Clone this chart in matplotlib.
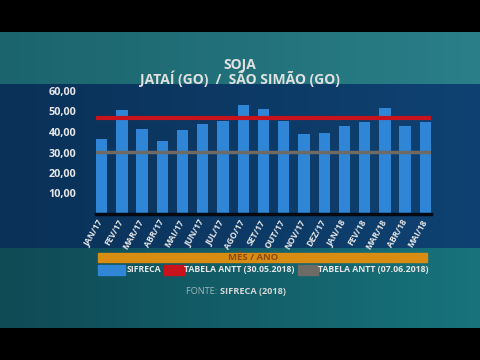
import numpy as np
import matplotlib
matplotlib.use("Agg")
import matplotlib.pyplot as plt
from matplotlib.patches import Rectangle
import matplotlib.transforms as mtransforms

months = ['JAN/17', 'FEV/17', 'MAR/17', 'ABR/17', 'MAI/17', 'JUN/17', 'JUL/17',
          'AGO/17', 'SET/17', 'OUT/17', 'NOV/17', 'DEZ/17', 'JAN/18', 'FEV/18',
          'MAR/18', 'ABR/18', 'MAI/18']
sifreca = [36.4, 50.5, 41.3, 35.4, 40.8, 43.7, 45.6, 53.4, 51.0, 45.6, 38.8,
           39.3, 42.7, 44.7, 51.5, 42.7, 45.1]
antt_3005 = 46.6
antt_0706 = 30.2
yticks = [10, 20, 30, 40, 50, 60]
ytick_labels = ['10,00', '20,00', '30,00', '40,00', '50,00', '60,00']

FONT = 'Open Sans'
W, H = 480, 360
fig = plt.figure(figsize=(4.8, 3.6), dpi=100)

# background image (decoration)
bg = np.zeros((H, W, 3))
xs = np.linspace(0, 1, W)
def band(y0, y1, cl, cr):
    cl = np.array(matplotlib.colors.to_rgb(cl)); cr = np.array(matplotlib.colors.to_rgb(cr))
    row = cl[None, :] * (1 - xs[:, None]) + cr[None, :] * xs[:, None]
    bg[y0:y1] = row[None, :, :]
band(0, 32, '#000000', '#000000')
band(32, 84, '#1b646d', '#2a7f88')
band(84, 248, '#0a3158', '#0f4272')
band(248, 328, '#0f4a55', '#17737c')
band(328, 360, '#000000', '#000000')
axbg = fig.add_axes([0, 0, 1, 1])
axbg.imshow(bg, aspect='auto', extent=[0, W, H, 0])
axbg.set_xlim(0, W); axbg.set_ylim(H, 0)
axbg.axis('off')

def fy(py):
    return (H - py) / H
def fx(px):
    return px / W

# main axes
left, right, top, bottom = 96, 431, 91, 214
ax = fig.add_axes([fx(left), fy(bottom), fx(right) - fx(left), fy(top) - fy(bottom)])
ax.set_facecolor('none')
x = np.arange(len(months))
ax.bar(x, sifreca, width=0.56, color='#2f86d6', zorder=2)
ax.axhline(antt_3005, color='#c8121c', lw=3, zorder=3)
ax.axhline(antt_0706, color='#6e6a66', lw=2.5, zorder=3)
ax.set_xlim(-0.28, len(months) - 0.72)
ax.set_ylim(0, 60)
for s in ['top', 'right', 'left']:
    ax.spines[s].set_visible(False)
ax.spines['bottom'].set_color('#050a12')
ax.spines['bottom'].set_linewidth(2.5)
ax.set_yticks(yticks)
ax.set_yticklabels(ytick_labels, fontfamily=FONT, fontweight='bold', fontsize=7.8, color='#e6e6e6')
ax.tick_params(axis='y', length=0, pad=14)
ax.set_xticks(x)
ax.set_xticklabels(months, rotation=60, ha='right', rotation_mode='anchor',
                   fontfamily=FONT, fontweight='bold', fontsize=6.2, color='#e6e6e6')
ax.tick_params(axis='x', length=0, pad=3)
shift = mtransforms.ScaledTranslation(-4 / 100, 0, fig.dpi_scale_trans)
for lbl in ax.get_xticklabels():
    lbl.set_transform(lbl.get_transform() + shift)

# titles
fig.text(fx(240), fy(65), 'SOJA', ha='center', va='center', fontfamily=FONT,
         fontweight='bold', fontsize=10, color='#e0e0e0')
fig.text(fx(240), fy(79), 'JATAÍ (GO)  /  SÃO SIMÃO (GO)', ha='center', va='center',
         fontfamily=FONT, fontweight='bold', fontsize=10, color='#e0e0e0')

# orange axis-title bar
fig.patches.append(Rectangle((fx(98), fy(262)), fx(427) - fx(98), fy(253) - fy(262),
                             transform=fig.transFigure, color='#d98c12', zorder=1))
fig.text(fx(253), fy(257.5), 'MÊS / ANO', ha='center', va='center', fontfamily=FONT,
         fontweight='bold', fontsize=6.8, color='#8a4a10')

# legend
def leg(x0, x1, color):
    fig.patches.append(Rectangle((fx(x0), fy(275)), fx(x1) - fx(x0), fy(265) - fy(275),
                                 transform=fig.transFigure, color=color, zorder=1))
leg(98, 125, '#2f86d6')
fig.text(fx(127), fy(270), 'SIFRECA', ha='left', va='center', fontfamily=FONT,
         fontweight='bold', fontsize=6.3, color='#e6e6e6')
leg(164, 184, '#c8121c')
fig.text(fx(184), fy(270), 'TABELA ANTT (30.05.2018)', ha='left', va='center', fontfamily=FONT,
         fontweight='bold', fontsize=6.3, color='#e6e6e6')
leg(298, 318, '#6e6a66')
fig.text(fx(318), fy(270), 'TABELA ANTT (07.06.2018)', ha='left', va='center', fontfamily=FONT,
         fontweight='bold', fontsize=6.3, color='#e6e6e6')

# source
fig.text(fx(220), fy(292), 'FONTE: ', ha='right', va='center', fontfamily=FONT,
         fontsize=6.6, color='#9fb6bc')
fig.text(fx(220), fy(292), 'SIFRECA (2018)', ha='left', va='center', fontfamily=FONT,
         fontweight='bold', fontsize=6.6, color='#d6d6d6')

fig.savefig('out.png', dpi=100)
